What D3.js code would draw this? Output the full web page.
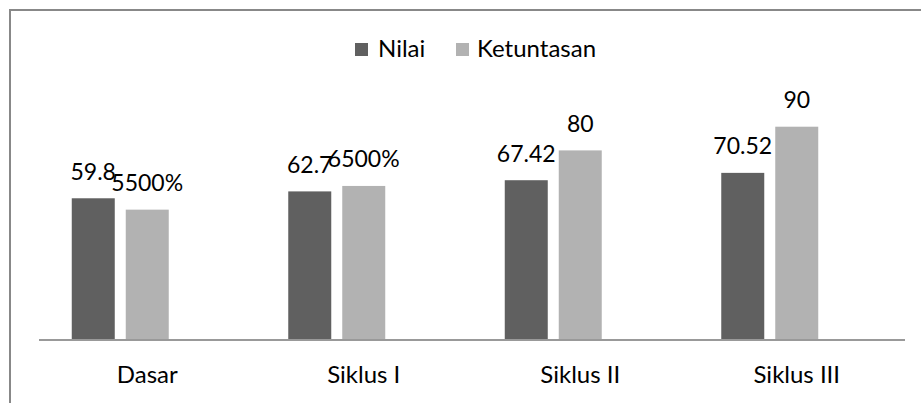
<!DOCTYPE html>
<html>
<head>
<meta charset="utf-8">
<script src="https://cdn.jsdelivr.net/npm/d3@7/dist/d3.min.js"></script>
<style>
  html, body { margin: 0; padding: 0; background: #fff; }
  svg { display: block; }
  text { font-family: Lato, "Open Sans", sans-serif; fill: #000; }
</style>
</head>
<body>
<svg id="chart" width="921" height="403"></svg>
<script>
// ---- data ----
const categories = ["Dasar", "Siklus I", "Siklus II", "Siklus III"];
const seriesNames = ["Nilai", "Ketuntasan"];
const nilaiValues = [59.8, 62.7, 67.42, 70.52];
const ketuntasanValues = [55, 65, 80, 90];
const nilaiLabels = ["59.8", "62.7", "67.42", "70.52"];
const ketuntasanLabels = ["5500%", "6500%", "80", "90"];
const seriesColors = ["#606060", "#b2b2b2"];
// the original cluster keeps room for a third, empty series
const clusterSlots = [0, 1, 2];

const svg = d3.select("#chart");
const W = 921, H = 403;

// outer frame (cropped on right/bottom)
svg.append("rect")
  .attr("x", 10).attr("y", 10)
  .attr("width", W + 40).attr("height", H + 40)
  .attr("fill", "#fff").attr("stroke", "#888").attr("stroke-width", 2);

const plot = { left: 39, right: 905, top: 103, bottom: 340 };

const x0 = d3.scaleBand().domain(categories).range([plot.left, plot.right]).padding(0);
const cw = x0.bandwidth();
const x1 = d3.scaleBand().domain(clusterSlots)
  .range([cw * 0.1513, cw * 0.8487]).paddingInner(0.2037).paddingOuter(0);
const y = d3.scaleLinear().domain([0, 100]).range([plot.bottom, plot.top]);

const series = [
  { name: seriesNames[0], values: nilaiValues, labels: nilaiLabels, color: seriesColors[0] },
  { name: seriesNames[1], values: ketuntasanValues, labels: ketuntasanLabels, color: seriesColors[1] }
];

const groups = svg.append("g").selectAll("g")
  .data(categories).join("g")
  .attr("transform", d => `translate(${x0(d)},0)`);

series.forEach((s, si) => {
  groups.append("rect")
    .attr("x", x1(si))
    .attr("y", (d, i) => y(s.values[i]))
    .attr("width", x1.bandwidth())
    .attr("height", (d, i) => y(0) - y(s.values[i]))
    .attr("fill", s.color);
  groups.append("text")
    .attr("x", x1(si) + x1.bandwidth() / 2)
    .attr("y", (d, i) => y(s.values[i]) - 18.5)
    .attr("text-anchor", "middle")
    .attr("font-size", 23)
    .text((d, i) => s.labels[i]);
});

// category axis
const xAxis = svg.append("g")
  .attr("transform", `translate(0,${plot.bottom})`)
  .call(d3.axisBottom(x0).tickSize(0).tickPadding(0));
xAxis.select(".domain").attr("stroke", "#999").attr("stroke-width", 2)
  .attr("d", `M${plot.left},0H${plot.right}`);
xAxis.selectAll(".tick text")
  .attr("y", 43).attr("dy", null)
  .attr("font-size", 24)
  .style("font-family", "Lato, 'Open Sans', sans-serif")
  .attr("fill", "#000");

// legend
const legendItems = [
  { name: seriesNames[0], color: seriesColors[0], sx: 355, tx: 378 },
  { name: seriesNames[1], color: seriesColors[1], sx: 456, tx: 477 }
];
const lg = svg.append("g");
legendItems.forEach(it => {
  lg.append("rect").attr("x", it.sx).attr("y", 43).attr("width", 13).attr("height", 13).attr("fill", it.color);
  lg.append("text").attr("x", it.tx).attr("y", 56.5).attr("font-size", 24).text(it.name);
});
</script>
</body>
</html>
